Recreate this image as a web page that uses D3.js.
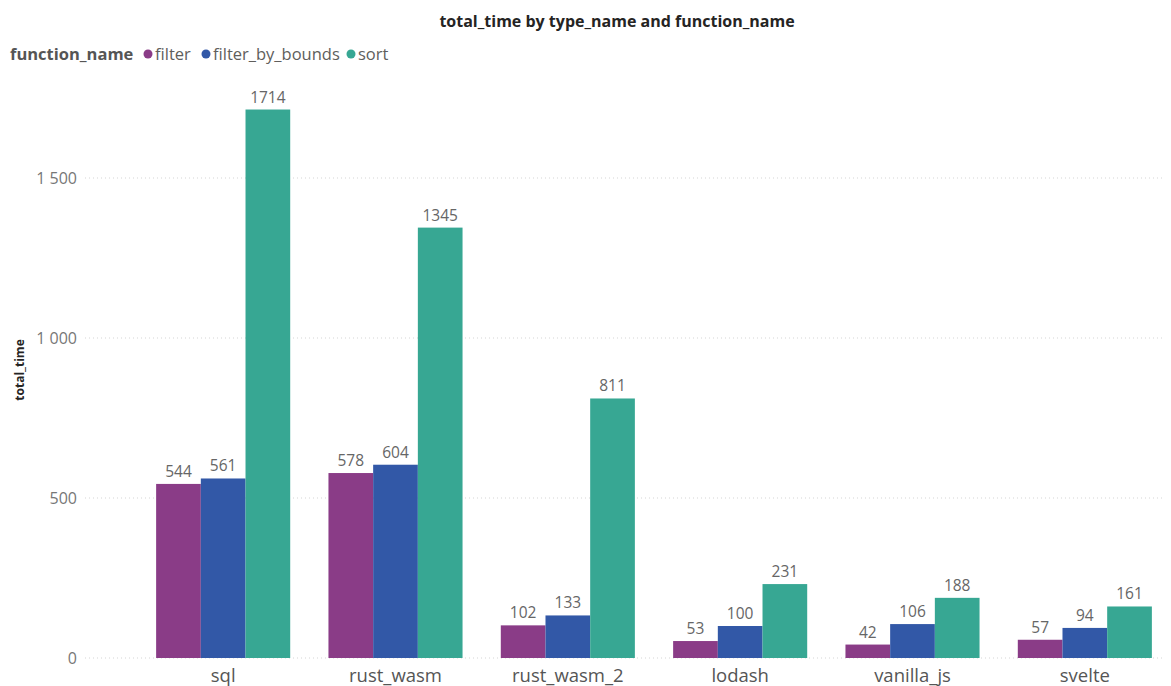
<!DOCTYPE html>
<html>
<head>
<meta charset="utf-8">
<script src="https://cdn.jsdelivr.net/npm/d3@7"></script>
<style>
  html, body { margin: 0; padding: 0; background: #fff; }
  svg { display: block; font-family: "Open Sans", "Segoe UI", sans-serif; }
</style>
</head>
<body>
<svg id="chart" width="1171" height="686"></svg>
<script>
// Benchmark totals per implementation and function
const categories = ["sql", "rust_wasm", "rust_wasm_2", "lodash", "vanilla_js", "svelte"];
const seriesNames = ["filter", "filter_by_bounds", "sort"];
const filterValues = [544, 578, 102, 53, 42, 57];
const filterByBoundsValues = [561, 604, 133, 100, 106, 94];
const sortValues = [1714, 1345, 811, 231, 188, 161];
const yTicks = [0, 500, 1000, 1500];
const seriesColors = ["#8A3C87", "#3258A7", "#37A793"];

const seriesValues = [filterValues, filterByBoundsValues, sortValues];
const rows = categories.map((c, i) => ({
  category: c,
  values: seriesNames.map((s, j) => ({ series: s, value: seriesValues[j][i], color: seriesColors[j] }))
}));

const svg = d3.select("#chart");

const x0 = d3.scaleBand().domain(categories).range([137, 1171]).paddingInner(0.222).paddingOuter(0.111);
const x1 = d3.scaleBand().domain(seriesNames).range([0, x0.bandwidth()]).padding(0);
const y = d3.scaleLinear().domain([0, 1500]).range([658, 178]);

// Title
svg.append("text")
  .attr("x", 617).attr("y", 27)
  .attr("text-anchor", "middle")
  .attr("font-size", 16).attr("font-weight", 700)
  .attr("fill", "#252423")
  .text("total_time by type_name and function_name");

// Legend
const legend = svg.append("g").attr("transform", "translate(10,60)");
legend.append("text")
  .attr("x", 0).attr("y", 0)
  .attr("font-size", 16.5).attr("font-weight", 700)
  .attr("fill", "#555")
  .text("function_name");
const legendX = [145, 203, 348];
seriesNames.forEach((s, j) => {
  legend.append("circle")
    .attr("cx", legendX[j] - 7).attr("cy", -6).attr("r", 4.5)
    .attr("fill", seriesColors[j]);
  legend.append("text")
    .attr("x", legendX[j]).attr("y", 0)
    .attr("font-size", 16.5)
    .attr("fill", "#605E5C")
    .text(s);
});

// Gridlines
svg.append("g")
  .selectAll("line")
  .data(yTicks)
  .join("line")
  .attr("x1", 85).attr("x2", 1162)
  .attr("y1", d => y(d)).attr("y2", d => y(d))
  .attr("stroke", "#d5d5d5")
  .attr("stroke-width", 1)
  .attr("stroke-dasharray", "1,3");

// Y axis tick labels
const fmt = v => d3.format(",")(v).replace(/,/g, " ");
const yAxis = svg.append("g")
  .attr("transform", "translate(77,0)")
  .call(d3.axisLeft(y).tickValues(yTicks).tickFormat(fmt).tickSize(0).tickPadding(0));
yAxis.select(".domain").remove();
yAxis.selectAll("text")
  .attr("font-size", 16)
  .attr("font-family", "\"Open Sans\", sans-serif")
  .attr("fill", "#777");

// Y axis title
svg.append("text")
  .attr("transform", "translate(24,370) rotate(-90)")
  .attr("text-anchor", "middle")
  .attr("font-size", 12).attr("font-weight", 700)
  .attr("fill", "#252423")
  .text("total_time");

// Bars
const groups = svg.append("g")
  .selectAll("g")
  .data(rows)
  .join("g")
  .attr("transform", d => `translate(${x0(d.category)},0)`);

groups.selectAll("rect")
  .data(d => d.values)
  .join("rect")
  .attr("x", d => x1(d.series))
  .attr("width", x1.bandwidth())
  .attr("y", d => y(d.value))
  .attr("height", d => y(0) - y(d.value))
  .attr("fill", d => d.color);

// Data labels
groups.selectAll("text")
  .data(d => d.values)
  .join("text")
  .attr("x", d => x1(d.series) + x1.bandwidth() / 2)
  .attr("y", d => y(d.value) - 7)
  .attr("text-anchor", "middle")
  .attr("font-size", 15.5)
  .attr("fill", "#666")
  .text(d => d.value);

// X axis labels
const xAxis = svg.append("g")
  .attr("transform", "translate(0,658)")
  .call(d3.axisBottom(x0).tickSize(0).tickPadding(0));
xAxis.select(".domain").remove();
xAxis.selectAll("text")
  .attr("dy", 24)
  .attr("font-size", 18.5)
  .attr("font-family", "\"Open Sans\", sans-serif")
  .attr("fill", "#555");
</script>
</body>
</html>
